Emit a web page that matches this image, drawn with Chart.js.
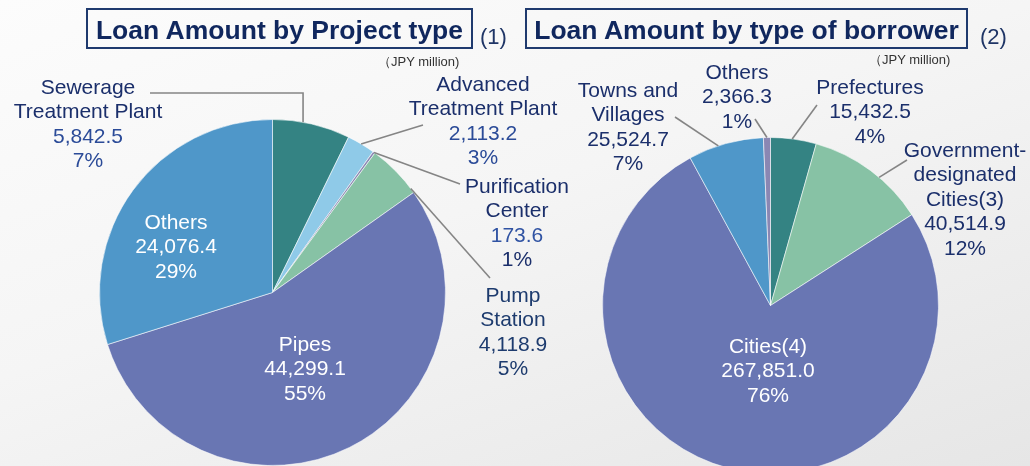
<!DOCTYPE html>
<html>
<head>
<meta charset="utf-8">
<script src="https://cdn.jsdelivr.net/npm/chart.js@4"></script>
<style>
  html, body { margin:0; padding:0; }
  body {
    width:1030px; height:466px; overflow:hidden; position:relative;
    font-family:"Liberation Sans", Arial, sans-serif;
    background: linear-gradient(160deg, #fcfcfc 0%, #f5f5f5 45%, #e6e6e6 100%);
  }
  canvas { position:absolute; left:0; top:0; }
  .tbox {
    position:absolute; top:8px; height:41px; box-sizing:border-box;
    border:2px solid #1f3a6e; color:#10275e; font-weight:bold; font-size:26.5px;
    line-height:40px; text-align:center; white-space:nowrap;
  }
  .num { position:absolute; top:25px; font-size:22px; line-height:24px; color:#1f3566; }
  .unit { position:absolute; font-size:13px; line-height:16px; color:#333; white-space:nowrap; }
</style>
</head>
<body>
<canvas id="c1" width="1030" height="480"></canvas>
<canvas id="c2" width="1030" height="480"></canvas>

<div class="tbox" style="left:86px;width:387px;">Loan Amount by Project type</div>
<div class="num" style="left:480px;">(1)</div>
<div class="unit" style="left:378px;top:54px;">（JPY million)</div>

<div class="tbox" style="left:525px;width:443px;">Loan Amount by type of borrower</div>
<div class="num" style="left:980px;">(2)</div>
<div class="unit" style="left:869px;top:52px;">（JPY million)</div>

<script>
// ---------- data ----------
const projectCategories = ['Sewerage Treatment Plant', 'Advanced Treatment Plant', 'Purification Center', 'Pump Station', 'Pipes', 'Others'];
const projectValues = [5842.5, 2113.2, 173.6, 4118.9, 44299.1, 24076.4];
const projectPercents = ['7%', '3%', '1%', '5%', '55%', '29%'];
const projectNameLines = [['Sewerage', 'Treatment Plant'], ['Advanced', 'Treatment Plant'], ['Purification', 'Center'], ['Pump', 'Station'], ['Pipes'], ['Others']];

const borrowerCategories = ['Prefectures', 'Government-designated Cities(3)', 'Cities(4)', 'Towns and Villages', 'Others'];
const borrowerValues = [15432.5, 40514.9, 267851.0, 25524.7, 2366.3];
const borrowerPercents = ['4%', '12%', '76%', '7%', '1%'];
const borrowerNameLines = [['Prefectures'], ['Government-', 'designated', 'Cities(3)'], ['Cities(4)'], ['Towns and', 'Villages'], ['Others']];

// ---------- styles / layout ----------
const projectColors = ['#348383', '#8fcae8', '#8a87b3', '#87c2a5', '#6976b3', '#4f97c9'];
const borrowerColors = ['#348383', '#87c2a5', '#6976b3', '#4f97c9', '#8a87b3'];

const NAVY = '#1b2f6b', BLUE = '#2b4b98', BRIGHT = '#3053a3', WHITE = '#ffffff', PNAVY = '#1d3b6e';

const projectLabelLayout = [
  { x: 88,  y: 88,  nameColor: NAVY, valueColor: BLUE, pctColor: BLUE, leader: { frac: 0.39, elbowY: 93, x: 150, y: 93 } },
  { x: 483, y: 85,  nameColor: NAVY, valueColor: BLUE, pctColor: BLUE, leader: { frac: 0.5, x: 423, y: 125 } },
  { x: 517, y: 187, nameColor: NAVY, valueColor: BRIGHT, pctColor: NAVY, leader: { frac: 0.5, x: 460, y: 184 } },
  { x: 513, y: 296, nameColor: PNAVY, valueColor: PNAVY, pctColor: PNAVY, leader: { frac: 0.91, x: 490, y: 278 } },
  { x: 305, y: 345, nameColor: WHITE, valueColor: WHITE, pctColor: WHITE },
  { x: 176, y: 223, nameColor: WHITE, valueColor: WHITE, pctColor: WHITE }
];
const borrowerLabelLayout = [
  { x: 870, y: 88,  nameColor: NAVY, valueColor: NAVY, pctColor: NAVY, leader: { frac: 0.47, x: 817, y: 105 } },
  { x: 965, y: 151, nameColor: NAVY, valueColor: NAVY, pctColor: NAVY, leader: { frac: 0.59, x: 907, y: 160 } },
  { x: 768, y: 347, nameColor: WHITE, valueColor: WHITE, pctColor: WHITE },
  { x: 628, y: 91,  nameColor: NAVY, valueColor: NAVY, pctColor: NAVY, leader: { frac: 0.4, x: 675, y: 117 } },
  { x: 737, y: 73,  nameColor: NAVY, valueColor: NAVY, pctColor: NAVY, leader: { frac: 0.5, x: 755, y: 119 } }
];
const LINE_H = 24.5;

function fmt(v) {
  return v.toLocaleString('en-US', { minimumFractionDigits: 1, maximumFractionDigits: 1 });
}

function makeLabelPlugin(layout, nameLines, percents) {
  return {
    id: 'sliceLabels',
    afterDatasetsDraw(chart) {
      const ctx = chart.ctx;
      const meta = chart.getDatasetMeta(0);
      const values = chart.data.datasets[0].data;
      ctx.save();
      layout.forEach((it, i) => {
        const el = meta.data[i];
        const p = el.getProps(['x', 'y', 'startAngle', 'endAngle', 'outerRadius'], true);
        if (it.leader) {
          const a = p.startAngle + it.leader.frac * (p.endAngle - p.startAngle);
          const sx = p.x + p.outerRadius * Math.cos(a);
          const sy = p.y + p.outerRadius * Math.sin(a);
          ctx.beginPath();
          ctx.moveTo(sx, sy);
          if (it.leader.elbowY != null) ctx.lineTo(sx, it.leader.elbowY);
          ctx.lineTo(it.leader.x, it.leader.y);
          ctx.strokeStyle = '#858585';
          ctx.lineWidth = 1.6;
          ctx.stroke();
        }
        const lines = nameLines[i].map(t => ({ t, c: it.nameColor }));
        lines.push({ t: fmt(values[i]), c: it.valueColor });
        lines.push({ t: percents[i], c: it.pctColor });
        ctx.font = '21px "Liberation Sans", Arial, sans-serif';
        ctx.textAlign = 'center';
        ctx.textBaseline = 'middle';
        lines.forEach((ln, k) => {
          ctx.fillStyle = ln.c;
          ctx.fillText(ln.t, it.x, it.y + k * LINE_H);
        });
      });
      ctx.restore();
    }
  };
}

function makePie(id, labels, values, colors, padding, plugin) {
  return new Chart(document.getElementById(id), {
    type: 'pie',
    data: {
      labels: labels,
      datasets: [{
        data: values,
        backgroundColor: colors,
        borderColor: 'rgba(255,255,255,0.55)',
        borderWidth: 1
      }]
    },
    options: {
      responsive: false,
      animation: false,
      events: [],
      layout: { padding: padding },
      plugins: { legend: { display: false }, tooltip: { enabled: false }, title: { display: false } }
    },
    plugins: [plugin]
  });
}

makePie('c1', projectCategories, projectValues, projectColors,
  { left: 99, right: 584, top: 119, bottom: 14 },
  makeLabelPlugin(projectLabelLayout, projectNameLines, projectPercents));

makePie('c2', borrowerCategories, borrowerValues, borrowerColors,
  { left: 602, right: 91, top: 137, bottom: 6 },
  makeLabelPlugin(borrowerLabelLayout, borrowerNameLines, borrowerPercents));
</script>
</body>
</html>
